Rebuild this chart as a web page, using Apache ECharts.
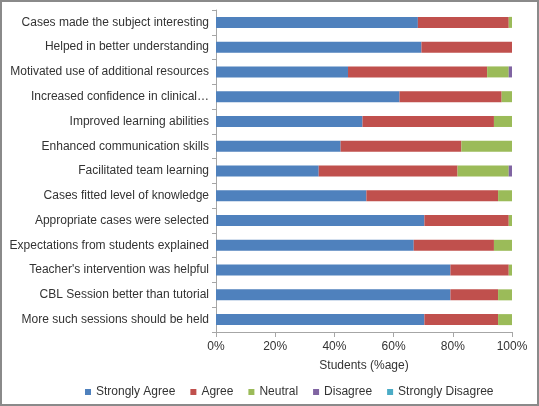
<!DOCTYPE html>
<html><head><meta charset="utf-8">
<script src="https://cdn.jsdelivr.net/npm/echarts@6/dist/echarts.min.js"></script>
<style>html,body{margin:0;padding:0;background:#fff}#c{width:539px;height:406px}</style>
</head><body><div id="c"></div>
<script>
const categories = [
  "Cases made the subject interesting",
  "Helped in better understanding",
  "Motivated use of additional resources",
  "Increased confidence in clinical\u2026",
  "Improved learning abilities",
  "Enhanced communication skills",
  "Facilitated team learning",
  "Cases fitted level of knowledge",
  "Appropriate cases were selected",
  "Expectations from students explained",
  "Teacher's intervention was helpful",
  "CBL Session better than tutorial",
  "More such sessions should be held"
];
const stronglyAgree   = [68.2, 69.4, 44.6, 62.0, 49.5, 42.1, 34.7, 50.8, 70.4, 66.8, 79.2, 79.2, 70.4];
const agree           = [30.7, 30.6, 47.0, 34.5, 44.4, 40.8, 46.9, 44.5, 28.5, 27.1, 19.7, 16.1, 24.9];
const neutral         = [1.1, 0, 7.3, 3.5, 6.1, 17.1, 17.3, 4.7, 1.1, 6.1, 1.1, 4.7, 4.7];
const disagree        = [0, 0, 1.1, 0, 0, 0, 1.1, 0, 0, 0, 0, 0, 0];
const stronglyDisagree= [0, 0, 0, 0, 0, 0, 0, 0, 0, 0, 0, 0, 0];
const xTicks = [0, 20, 40, 60, 80, 100];

const names = ["Strongly Agree","Agree","Neutral","Disagree","Strongly Disagree"];
const values = [stronglyAgree, agree, neutral, disagree, stronglyDisagree];
const colors = ["#4F81BD","#C0504D","#9BBB59","#8064A2","#4BACC6"];
const font = "Liberation Sans, Arial, sans-serif";

const chart = echarts.init(document.getElementById('c'), null, {renderer:'canvas'});
chart.setOption({
  animation:false,
  color: colors,
  textStyle:{fontFamily:font},
  grid:{left:216, right:27, top:10, bottom:74, containLabel:false},
  graphic:[{type:'rect', shape:{x:1,y:1,width:537,height:404}, style:{fill:'none', stroke:'#8a8a8a', lineWidth:2}, silent:true}],
  legend:{
    data:names, bottom:3, left:80, itemWidth:6, itemHeight:6, itemGap:15,
    icon:'rect', textStyle:{fontSize:12, color:'#333', fontFamily:font}
  },
  xAxis:{
    type:'value', min:xTicks[0], max:xTicks[xTicks.length-1], interval:20,
    name:'Students (%age)', nameLocation:'middle', nameGap:28,
    nameTextStyle:{fontSize:12, color:'#333', fontFamily:font},
    axisLine:{show:true, lineStyle:{color:'#a6a6a6'}},
    axisTick:{show:true, length:5, lineStyle:{color:'#a6a6a6'}},
    axisLabel:{formatter:'{value}%', fontSize:12, color:'#333', margin:9, fontFamily:font},
    splitLine:{show:false}
  },
  yAxis:{
    type:'category', data:categories, inverse:true,
    axisLine:{show:true, lineStyle:{color:'#a6a6a6'}},
    axisTick:{show:true, length:4, lineStyle:{color:'#a6a6a6'}},
    axisLabel:{fontSize:12, color:'#333', margin:7, fontFamily:font}
  },
  series: names.map((n,i)=>({
    name:n, type:'bar', stack:'total', data:values[i], barWidth:11,
    itemStyle:{color:colors[i]}
  }))
});
</script></body></html>
